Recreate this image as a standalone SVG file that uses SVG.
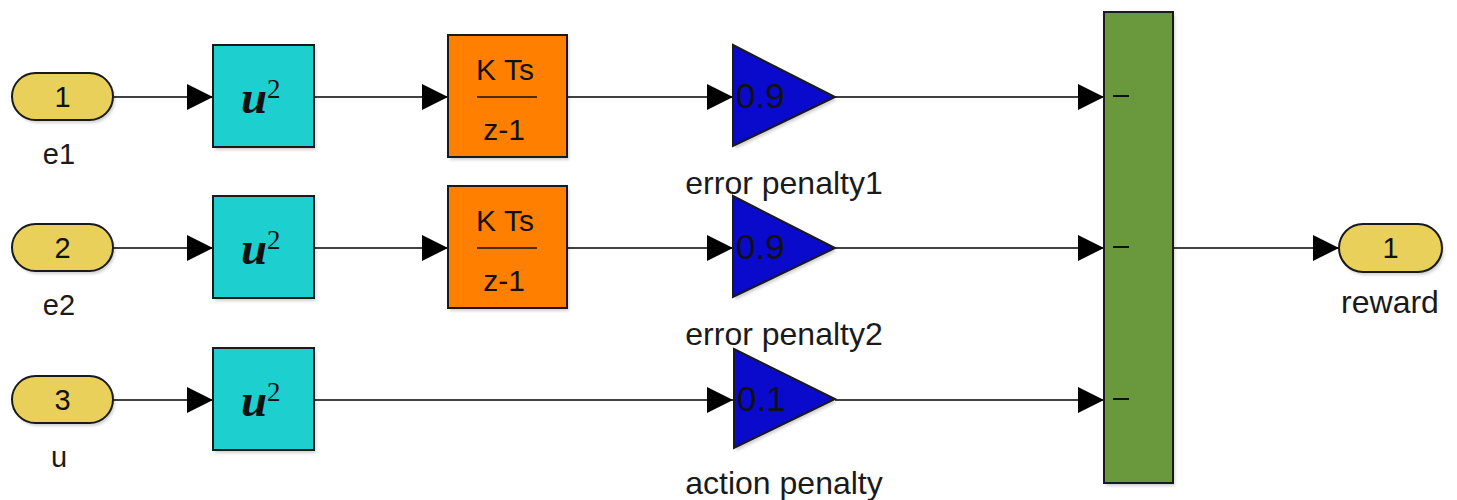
<svg xmlns="http://www.w3.org/2000/svg" width="1457" height="500" viewBox="0 0 1457 500">
  <style>
    .lbl { font-family: "Liberation Sans", Arial, sans-serif; font-size: 32px; fill: #1a1a1a; }
    .plbl { font-family: "Liberation Sans", Arial, sans-serif; font-size: 29px; fill: #1a1a1a; }
    .port { fill: #E8D05A; stroke: #1a1a1a; stroke-width: 2; }
    .sq { fill: #1ECFCF; stroke: #1a1a1a; stroke-width: 2; }
    .dz { fill: #FF8000; stroke: #1a1a1a; stroke-width: 2; }
    .gain { fill: #0A0ACC; stroke: #1a1a1a; stroke-width: 2; stroke-linejoin: miter; }
    .sum { fill: #6A983C; stroke: #1a1a1a; stroke-width: 2; }
    .shadow { fill: #000; opacity: 0.18; }
    .wire { stroke: #000; stroke-width: 1.6; fill: none; marker-end: url(#arr); }
    .math { font-family: "Liberation Serif", "Times New Roman", serif; font-style: italic; font-weight: bold; font-size: 47px; fill: #111; }
    .sup { font-family: "Liberation Serif", "Times New Roman", serif; font-size: 27px; fill: #111; }
    .num { font-family: "Liberation Sans", Arial, sans-serif; fill: #111; }
  </style>
  <defs>
    <marker id="arr" markerWidth="26" markerHeight="26" refX="26" refY="13" markerUnits="userSpaceOnUse" orient="auto">
      <path d="M0,0 L26,13 L0,26 Z" fill="#000"/>
    </marker>
    <filter id="blur" x="-10%" y="-10%" width="130%" height="130%">
      <feGaussianBlur stdDeviation="1.5"/>
    </filter>
  </defs>

  <!-- signal lines -->
  <g id="connectors">
    <line class="wire" x1="113" y1="97" x2="213" y2="97"/>
    <line class="wire" x1="113" y1="248" x2="213" y2="248"/>
    <line class="wire" x1="113" y1="400" x2="213" y2="400"/>
    <line class="wire" x1="314" y1="97" x2="448" y2="97"/>
    <line class="wire" x1="314" y1="248" x2="448" y2="248"/>
    <line class="wire" x1="567" y1="97" x2="733" y2="97"/>
    <line class="wire" x1="567" y1="248" x2="733" y2="248"/>
    <line class="wire" x1="314" y1="400" x2="733" y2="400"/>
    <line class="wire" x1="835" y1="97" x2="1104" y2="97"/>
    <line class="wire" x1="835" y1="248" x2="1104" y2="248"/>
    <line class="wire" x1="835" y1="400" x2="1104" y2="400"/>
    <line class="wire" x1="1173" y1="248" x2="1339" y2="248"/>
  </g>

  <!-- inports -->
  <g id="in_e1">
    <rect class="shadow" x="14" y="76" width="101" height="47" rx="23.5" filter="url(#blur)"/>
    <rect class="port" x="12" y="73" width="101" height="47" rx="23.5"/>
    <text class="num" x="62.5" y="107" font-size="29" text-anchor="middle">1</text>
    <text class="plbl" x="59" y="164" text-anchor="middle">e1</text>
  </g>
  <g id="in_e2">
    <rect class="shadow" x="14" y="227" width="101" height="47" rx="23.5" filter="url(#blur)"/>
    <rect class="port" x="12" y="224" width="101" height="47" rx="23.5"/>
    <text class="num" x="62.5" y="258" font-size="29" text-anchor="middle">2</text>
    <text class="plbl" x="59" y="315" text-anchor="middle">e2</text>
  </g>
  <g id="in_u">
    <rect class="shadow" x="14" y="379" width="101" height="47" rx="23.5" filter="url(#blur)"/>
    <rect class="port" x="12" y="376" width="101" height="47" rx="23.5"/>
    <text class="num" x="62.5" y="410" font-size="29" text-anchor="middle">3</text>
    <text class="plbl" x="59" y="467" text-anchor="middle">u</text>
  </g>

  <!-- square blocks -->
  <g id="sq1">
    <rect class="shadow" x="215" y="48" width="101" height="102" filter="url(#blur)"/>
    <rect class="sq" x="213" y="45" width="101" height="102"/>
    <text class="math" x="241" y="113">u</text>
    <text class="sup" x="267" y="98">2</text>
  </g>
  <g id="sq2">
    <rect class="shadow" x="215" y="199" width="101" height="102" filter="url(#blur)"/>
    <rect class="sq" x="213" y="196" width="101" height="102"/>
    <text class="math" x="241" y="264">u</text>
    <text class="sup" x="267" y="249">2</text>
  </g>
  <g id="sq3">
    <rect class="shadow" x="215" y="351" width="101" height="102" filter="url(#blur)"/>
    <rect class="sq" x="213" y="348" width="101" height="102"/>
    <text class="math" x="241" y="416">u</text>
    <text class="sup" x="267" y="401">2</text>
  </g>

  <!-- discrete integrators -->
  <g id="int1">
    <rect class="shadow" x="450" y="38" width="119" height="122" filter="url(#blur)"/>
    <rect class="dz" x="448" y="35" width="119" height="122"/>
    <text class="num" x="505" y="80" font-size="30" text-anchor="middle">K Ts</text>
    <line x1="477" y1="97" x2="537" y2="97" stroke="#111" stroke-width="1.6"/>
    <text class="num" x="504" y="140" font-size="30" text-anchor="middle">z-1</text>
  </g>
  <g id="int2">
    <rect class="shadow" x="450" y="189" width="119" height="122" filter="url(#blur)"/>
    <rect class="dz" x="448" y="186" width="119" height="122"/>
    <text class="num" x="505" y="231" font-size="30" text-anchor="middle">K Ts</text>
    <line x1="477" y1="248" x2="537" y2="248" stroke="#111" stroke-width="1.6"/>
    <text class="num" x="504" y="291" font-size="30" text-anchor="middle">z-1</text>
  </g>

  <!-- gains -->
  <g id="gain1">
    <path class="shadow" d="M735,48 L837,100 L735,149 Z" filter="url(#blur)"/>
    <path class="gain" d="M733,45 L835,97 L733,146 Z"/>
    <text class="num" x="736" y="108" font-size="35">0.9</text>
    <text class="lbl" x="784" y="194" text-anchor="middle">error penalty1</text>
  </g>
  <g id="gain2">
    <path class="shadow" d="M735,199 L837,251 L735,300 Z" filter="url(#blur)"/>
    <path class="gain" d="M733,196 L835,248 L733,297 Z"/>
    <text class="num" x="736" y="259" font-size="35">0.9</text>
    <text class="lbl" x="784" y="345" text-anchor="middle">error penalty2</text>
  </g>
  <g id="gain3">
    <path class="shadow" d="M736,352 L837,402 L736,451 Z" filter="url(#blur)"/>
    <path class="gain" d="M734,349 L835,399 L734,448 Z"/>
    <text class="num" x="737" y="411" font-size="35">0.1</text>
    <text class="lbl" x="784" y="494" text-anchor="middle">action penalty</text>
  </g>

  <!-- sum block -->
  <g id="sum">
    <rect class="shadow" x="1106" y="15" width="69" height="471" filter="url(#blur)"/>
    <rect class="sum" x="1104" y="12" width="69" height="471"/>
    <line x1="1113" y1="96" x2="1129" y2="96" stroke="#111" stroke-width="2"/>
    <line x1="1113" y1="247" x2="1129" y2="247" stroke="#111" stroke-width="2"/>
    <line x1="1113" y1="399" x2="1129" y2="399" stroke="#111" stroke-width="2"/>
  </g>

  <!-- outport -->
  <g id="out_reward">
    <rect class="shadow" x="1341" y="227" width="103" height="48" rx="24" filter="url(#blur)"/>
    <rect class="port" x="1339" y="224" width="103" height="48" rx="24"/>
    <text class="num" x="1390.5" y="258" font-size="29" text-anchor="middle">1</text>
    <text class="lbl" x="1390" y="313" font-size="33" text-anchor="middle">reward</text>
  </g>
</svg>
